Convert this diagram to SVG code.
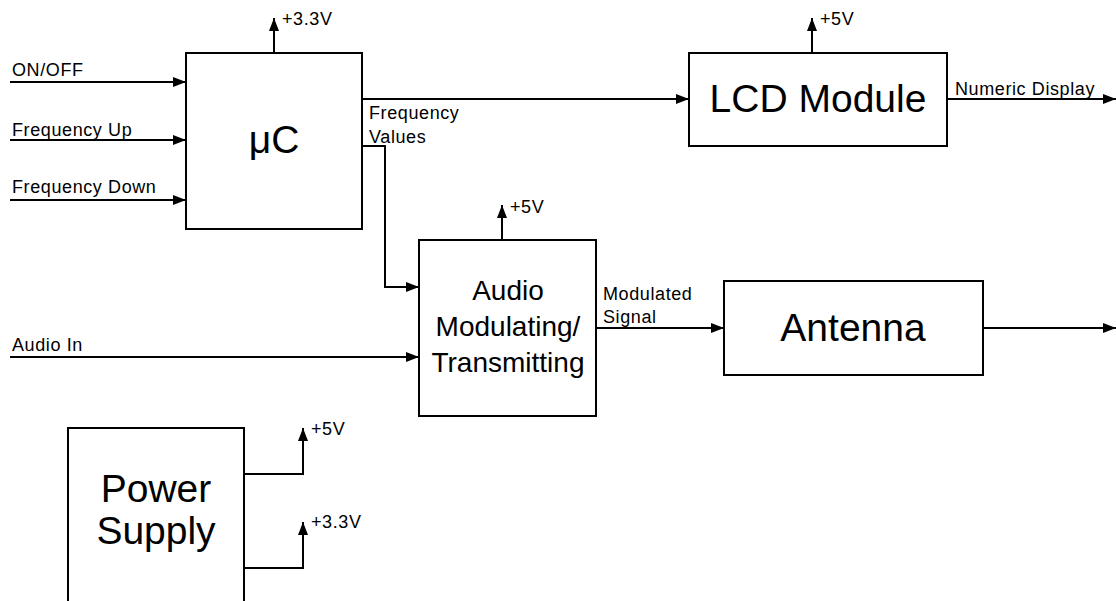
<svg xmlns="http://www.w3.org/2000/svg" width="1116" height="601" viewBox="0 0 1116 601">
<style>
.box{fill:#fff;stroke:#000;stroke-width:2}
.w{fill:none;stroke:#000;stroke-width:2;marker-end:url(#ah)}
.s{font-family:"Liberation Sans",Arial,sans-serif;font-size:18px;letter-spacing:0.6px;fill:#000}
.m{font-family:"Liberation Sans",Arial,sans-serif;font-size:28px;fill:#000;text-anchor:middle}
.l{font-family:"Liberation Sans",Arial,sans-serif;font-size:39px;fill:#000;text-anchor:middle}
</style>
<defs>
<marker id="ah" markerUnits="userSpaceOnUse" markerWidth="14" markerHeight="10" refX="13" refY="5" orient="auto" viewBox="0 0 14 10">
<path d="M0,0 L13,5 L0,10 z" fill="#000"/>
</marker>
</defs>
<rect width="1116" height="601" fill="#fff"/>
<g id="connectors">
<path class="w" d="M10,82 H186"/>
<path class="w" d="M10,140 H186"/>
<path class="w" d="M10,200 H186"/>
<path class="w" d="M274,53 V18"/>
<path class="w" d="M362,99 H689"/>
<path class="w" d="M362,146 H385 V287 H419"/>
<path class="w" d="M812,53 V18"/>
<path class="w" d="M947,99 H1116"/>
<path class="w" d="M502,240 V205"/>
<path class="w" d="M10,357 H419"/>
<path class="w" d="M596,328 H724"/>
<path class="w" d="M983,328 H1116"/>
<path class="w" d="M244,474 H303 V428"/>
<path class="w" d="M244,568 H303 V522"/>
<text class="s" x="12" y="76">ON/OFF</text>
<text class="s" x="12" y="136">Frequency Up</text>
<text class="s" x="12" y="193">Frequency Down</text>
<text class="s" x="282" y="25">+3.3V</text>
<text class="s" x="369" y="119">Frequency</text>
<text class="s" x="369" y="143">Values</text>
<text class="s" x="820" y="25">+5V</text>
<text class="s" x="955" y="95">Numeric Display</text>
<text class="s" x="510" y="213">+5V</text>
<text class="s" x="12" y="351">Audio In</text>
<text class="s" x="603" y="300">Modulated</text>
<text class="s" x="603" y="323">Signal</text>
<text class="s" x="311" y="435">+5V</text>
<text class="s" x="311" y="528">+3.3V</text>
</g>
<g id="uc">
<rect class="box" x="186" y="53" width="176" height="176"/>
<text class="l" x="274" y="153">μC</text>
</g>
<g id="lcd">
<rect class="box" x="689" y="53" width="258" height="93"/>
<text class="l" x="818" y="112">LCD Module</text>
</g>
<g id="audio">
<rect class="box" x="419" y="240" width="177" height="176"/>
<text class="m" x="508" y="300">Audio</text>
<text class="m" x="508" y="336">Modulating/</text>
<text class="m" x="508" y="372">Transmitting</text>
</g>
<g id="antenna">
<rect class="box" x="724" y="281" width="259" height="94"/>
<text class="l" x="853" y="341">Antenna</text>
</g>
<g id="power">
<rect class="box" x="68" y="428" width="176" height="200"/>
<text class="l" x="156" y="502">Power</text>
<text class="l" x="156" y="544">Supply</text>
</g>
</svg>
